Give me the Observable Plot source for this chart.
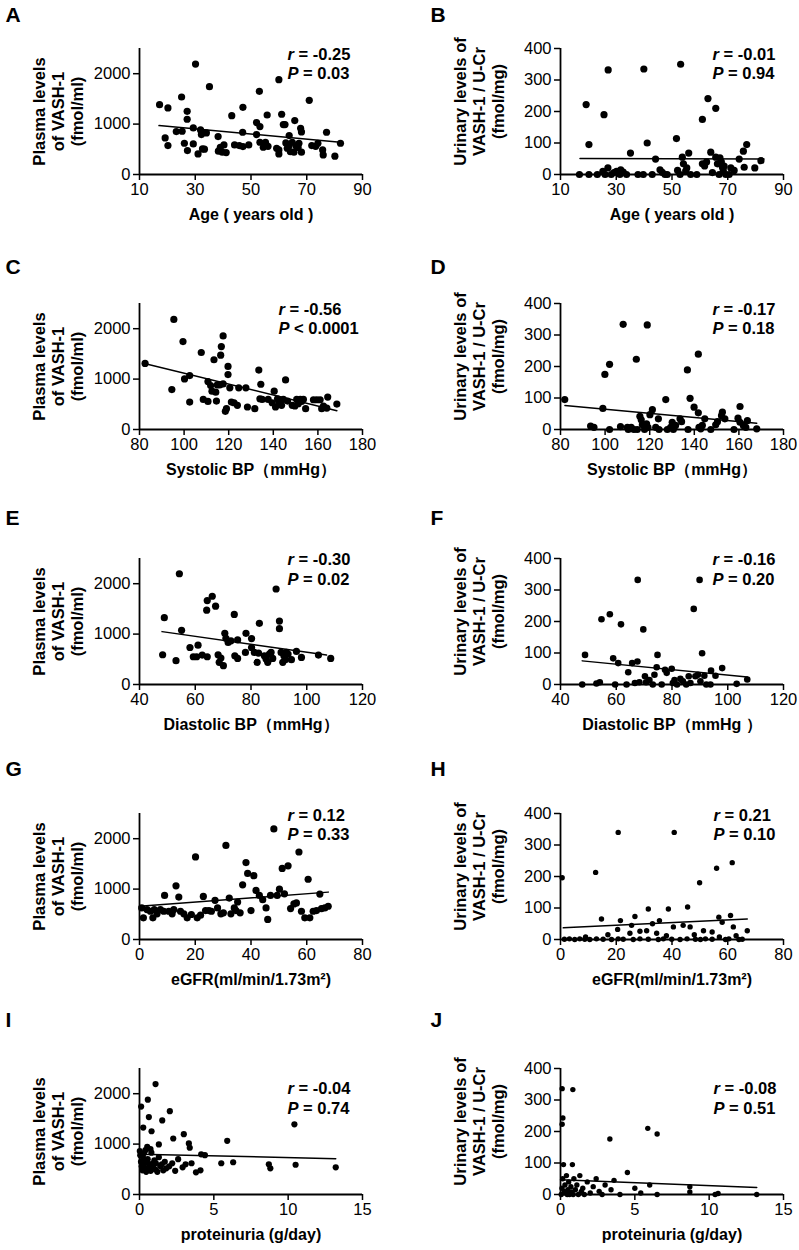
<!DOCTYPE html>
<html><head><meta charset="utf-8">
<script src="https://cdn.jsdelivr.net/npm/d3@7"></script>
<script src="https://cdn.jsdelivr.net/npm/@observablehq/plot@0.6"></script>
<style>
body{margin:0;background:#fff;overflow:hidden}
#fig{position:relative;width:799px;height:1250px;overflow:hidden;background:#fff}
#fig svg{position:absolute}
</style></head><body><div id="fig"></div>
<script>
// ---------- axis tick values & labels ----------
const plasmaTicks = [0, 1000, 2000];
const plasmaDomain = [0, 2500];
const urinaryTicks = [0, 100, 200, 300, 400];
const urinaryDomain = [0, 400];
const ageTicks = [10, 30, 50, 70, 90];
const sbpTicks = [80, 100, 120, 140, 160, 180];
const dbpTicks = [40, 60, 80, 100, 120];
const egfrTicks = [0, 20, 40, 60, 80];
const protTicks = [0, 5, 10, 15];
const plasmaLabel = "Plasma levels\nof VASH-1\n(fmol/ml)";
const urinaryLabel = "Urinary levels of\nVASH-1 / U-Cr\n(fmol/mg)";

// ---------- data: [x, y] pairs ----------
const panelA = [[17.2,1386],[20.2,1320],[19.2,726],[20.2,574],[23.2,851],[25.1,1538],[25.3,858],[26.1,620],[27.1,1254],[27.1,1096],[27.2,475],[29.3,924],[30.1,2191],[29.3,607],[31,409],[31.9,884],[32.2,792],[32.6,508],[33.3,502],[34,825],[35.1,1742],[38.2,752],[38.3,462],[39,541],[39.7,442],[40.3,587],[41.1,436],[43.1,1168],[44.1,587],[45.8,574],[47,838],[47.1,1333],[47.1,554],[49.2,587],[52,792],[52,1030],[53,1650],[53.2,950],[53.2,640],[54.4,541],[55.2,640],[55.8,1181],[56.1,560],[59.2,521],[60,488],[60,409],[60,1881],[61,1195],[61.6,990],[62.2,990],[62.5,627],[63,521],[63.6,568],[63.7,772],[64.1,455],[64.8,640],[65.4,442],[65.7,1069],[66.1,568],[66.9,535],[67.2,620],[67.8,917],[68.1,845],[68.1,442],[70.9,1472],[71.8,574],[73.2,560],[74,620],[75.7,488],[75.9,389],[77.1,838],[80.1,363],[82.1,620]];
const fitA = [[17,970],[82,640]];

const panelB = [[16.8,0],[19.2,222],[20.2,95],[20.2,0],[23.2,0],[25.6,190],[25.2,10],[26,0],[27.1,332],[27,21],[28.2,0],[29.2,6],[30.1,10],[31.3,0],[31.6,15],[32.5,8],[33.7,0],[35.1,68],[37.8,0],[39.9,335],[39.7,0],[41.1,100],[42.9,0],[44.1,49],[45.7,15],[46.5,7],[47.5,0],[48.3,0],[51.6,114],[52,13],[53.1,350],[52.9,0],[53.7,55],[54.1,34],[54.9,11],[55.3,21],[56,68],[56.7,0],[58.9,0],[60.9,175],[60.9,34],[61.7,27],[62.4,40],[62.9,241],[63.9,71],[64.5,6],[65.7,210],[65.7,55],[66.3,34],[66.9,0],[67.2,53],[67.7,40],[68.1,23],[68.7,27],[68.4,13],[69.3,0],[70.5,0],[71.1,21],[72.3,13],[74.1,49],[75.6,74],[75.9,23],[76.8,95],[79.7,21],[81.9,44]];
const fitB = [[17,51],[83,49]];

const panelC = [[82.5,1311],[95.4,2184],[94.5,793],[99.5,1744],[100.2,1003],[102.5,1069],[102.5,544],[107.7,1528],[108.6,597],[110.7,557],[110.7,951],[111.9,872],[112.5,761],[113.4,1384],[114.2,741],[114.5,564],[114.9,885],[116,885],[116.4,1475],[116.7,1646],[117.5,1856],[117.5,905],[118.5,361],[119,413],[119.7,1252],[119.7,1089],[120.5,826],[121.2,544],[122.4,531],[123.9,479],[124.5,826],[127.7,826],[128.4,446],[131.7,413],[133.5,1180],[134,610],[134.4,898],[135,597],[137.7,597],[139.5,531],[140.4,761],[141,446],[141.9,610],[142.5,525],[143.1,577],[143.7,479],[144.5,597],[145.5,984],[146.4,564],[148.5,479],[149.7,466],[150.5,597],[151.2,511],[152.1,597],[152.7,557],[153.5,597],[154.5,413],[158,590],[159.5,590],[161,590],[161.7,413],[162.5,466],[164,426],[164.4,643],[168.5,505]];
const fitC = [[82.2,1311],[168.5,374]];

const panelD = [[81.9,95],[93.5,11],[95,7],[99,67],[99.9,175],[102,207],[102,0],[106.9,9],[108.1,334],[110,7],[110.4,0],[111.7,7],[112.9,0],[114,223],[114.4,0],[115.6,42],[116.2,31],[116.7,15],[117.7,0],[118.6,18],[118.9,332],[119.2,7],[120.1,47],[121.2,63],[122.7,7],[123.9,34],[124.2,0],[127.2,95],[127.9,0],[129.4,7],[130.1,23],[130.6,0],[131.6,13],[133.6,34],[134.3,25],[136.9,189],[137.2,0],[138.1,99],[139.9,71],[141.8,239],[141.8,53],[142.1,7],[142.9,2],[143.6,13],[144.7,34],[147.4,0],[149.6,15],[150.4,25],[152.2,44],[152.6,55],[153.7,34],[157.8,0],[159.6,36],[160.5,73],[160.5,23],[162,13],[163.8,28],[163.1,7],[168,2]];
const fitD = [[82,76],[168,20]];

const panelE = [[48.3,590],[48.9,1325],[53.1,472],[54.3,2197],[55.1,1075],[58.1,734],[59.3,551],[61,780],[60.5,551],[62.5,584],[64.3,551],[64.1,1475],[64.3,1666],[66.1,1751],[67.3,1554],[68.2,590],[68.6,439],[69.2,525],[70.1,374],[70.6,1016],[71,918],[71.8,833],[72.8,866],[74,1390],[74.2,570],[75.2,885],[75.2,518],[78.2,1016],[78,636],[80.2,911],[80.2,734],[81.2,636],[82.2,439],[83,1213],[82.7,623],[84.8,570],[85.4,505],[86,439],[86.6,603],[87.2,636],[87.8,518],[89,1895],[90.2,1259],[90.2,1108],[90.8,636],[91.4,439],[91.8,570],[92.3,492],[92.7,636],[93.3,603],[94.5,492],[96.3,656],[98.1,538],[104.2,584],[108.6,518]];
const fitE = [[48.1,1049],[107.1,584]];

const panelF = [[47.8,0],[48.8,94],[52.9,3],[54.1,7],[54.7,207],[57.7,223],[58.9,83],[59.6,0],[61.7,191],[60.7,68],[63.7,0],[64.3,39],[65.7,68],[66.7,5],[67.6,73],[67.7,332],[68.3,7],[69.7,175],[70.3,26],[70.7,7],[71.9,14],[73.1,0],[73.7,31],[74.5,55],[74.8,94],[76.3,0],[77.5,47],[78.1,37],[79.9,50],[80.3,5],[80.9,14],[81.8,0],[83,18],[83.9,10],[85.1,0],[86,26],[86.6,5],[87.8,240],[88.4,26],[89.3,31],[89.9,332],[90.2,10],[90.8,99],[91.6,28],[92.3,0],[93.8,0],[94,44],[95.6,28],[98,52],[103.2,2],[107,16]];
const fitF = [[47.8,75],[107,24]];

const panelG = [[0.8,627],[1.4,431],[2.7,594],[3.9,561],[4.8,431],[5.3,594],[6.3,509],[7.5,594],[8.7,561],[9,875],[10.5,561],[11.7,509],[12.3,594],[13.1,1064],[14.1,842],[14.7,561],[15.9,509],[17.1,431],[18.6,496],[20.1,1638],[20.7,431],[21.9,483],[22.9,855],[23.7,574],[24.9,574],[25.8,561],[27.1,777],[28,627],[29.2,509],[31,1867],[30.1,529],[32.2,822],[32.8,509],[34,627],[34.6,574],[35.2,744],[36.1,529],[37,1084],[38.2,1527],[38.8,1312],[40,574],[41,1266],[41.8,973],[43,875],[44.2,790],[45.4,627],[46,398],[47,875],[48.2,2193],[49.4,875],[50.2,999],[51.2,1410],[52,907],[53.3,1462],[54.2,614],[55.4,705],[56.3,725],[57.2,1736],[58.1,561],[59.3,431],[60.5,1195],[61.1,431],[62.3,561],[63.5,574],[64.7,901],[65.3,614],[66.5,627],[67.7,660]];
const fitG = [[0,659],[67.7,940]];

const panelH = [[0.6,196],[12.6,213],[14.7,65],[20.7,340],[21.5,60],[26.7,73],[31.5,97],[35.5,60],[38.7,97],[40.8,340],[45.6,103],[49.9,180],[56,226],[56.8,71],[61,76],[61.6,244],[1.4,1],[3.2,2],[5.1,0],[6.9,2],[8.7,1],[10.5,0],[12.9,2],[15.3,1],[18.3,0],[20.7,2],[22.5,1],[26.1,0],[28.5,2],[31.5,1],[35.1,0],[36.9,2],[39.9,1],[42.9,0],[45.4,2],[48.4,1],[50.2,0],[52,2],[54.4,1],[59.2,0],[60.4,2],[64,0],[65.2,1],[20.5,32],[24.9,20],[28.5,26],[30.9,28],[34.5,20],[40.5,40],[46.5,40],[51.3,28],[54.4,24],[67,28],[33,50],[44,45],[58,55],[62,40],[17,15],[9,8],[25.5,45],[38,12],[48,15],[63,12],[57,8]];
const fitH = [[1,37],[67,65]];

const panelI = [[1.08,2190],[0.56,1882],[0.11,1745],[0.63,1536],[2.04,1653],[1.53,1470],[0.25,1327],[0.81,1255],[2.98,1196],[2.27,1111],[5.9,1065],[10.42,1392],[1.3,994],[3.32,1013],[3.38,928],[4.15,798],[0.02,863],[0.52,946],[0.74,902],[0.29,818],[0.05,780],[0.1,650],[0.15,560],[0.2,480],[0.25,720],[0.3,600],[0.35,530],[0.4,880],[0.45,450],[0.5,640],[0.55,700],[0.6,520],[0.7,590],[0.75,470],[0.8,830],[0.85,610],[0.9,560],[1.0,680],[1.05,500],[1.1,620],[1.2,450],[1.3,740],[1.4,560],[1.5,600],[1.6,480],[1.7,650],[1.8,520],[2.0,560],[2.2,620],[2.4,470],[2.6,700],[2.9,540],[3.1,600],[3.5,620],[3.8,440],[4.1,480],[4.4,780],[5.5,620],[6.3,640],[8.7,600],[8.8,520],[10.5,590],[13.2,540]];
const fitI = [[0,800],[13.2,710]];

const panelJ = [[0.11,336],[0.83,333],[0.16,243],[0.11,223],[3.32,176],[5.87,210],[6.5,192],[0.05,0],[0.1,20],[0.15,50],[0.2,95],[0.25,10],[0.3,30],[0.35,5],[0.4,60],[0.45,0],[0.5,15],[0.55,40],[0.6,0],[0.7,25],[0.75,8],[0.8,95],[0.85,0],[0.9,50],[1.0,15],[1.1,30],[1.2,0],[1.3,60],[1.4,10],[1.5,20],[1.6,0],[1.8,40],[2.0,5],[2.2,25],[2.4,50],[2.6,10],[2.8,0],[3.0,30],[3.4,15],[3.6,45],[4.0,0],[4.5,70],[5.0,20],[5.4,5],[6.0,30],[6.5,0],[8.7,25],[8.7,8],[10.4,0],[10.6,3],[13.2,0]];
const fitJ = [[0,47],[13.2,22]];

// ---------- panel configuration ----------
const panels = [
  {id:"A", data:panelA, fit:fitA, col:0, row:0, xDomain:[10,90], xTicks:ageTicks, kind:"plasma", xLabel:"Age ( years old )", letterY:15, ann:[148,6,25], r:"= -0.25", p:"= 0.03", dotR:3.6},
  {id:"B", data:panelB, fit:fitB, col:1, row:0, xDomain:[10,90], xTicks:ageTicks, kind:"urinary", xLabel:"Age ( years old )", letterY:15, ann:[152,6,25], r:"= -0.01", p:"= 0.94", dotR:3.6},
  {id:"C", data:panelC, fit:fitC, col:0, row:1, xDomain:[80,180], xTicks:sbpTicks, kind:"plasma", xLabel:"Systolic BP（mmHg）", letterY:12, ann:[139,6,25], r:"= -0.56", p:"< 0.0001", dotR:3.6},
  {id:"D", data:panelD, fit:fitD, col:1, row:1, xDomain:[80,180], xTicks:sbpTicks, kind:"urinary", xLabel:"Systolic BP（mmHg）", letterY:12, ann:[152,6,25], r:"= -0.17", p:"= 0.18", dotR:3.6},
  {id:"E", data:panelE, fit:fitE, col:0, row:2, xDomain:[40,120], xTicks:dbpTicks, kind:"plasma", xLabel:"Diastolic BP（mmHg）", letterY:8, ann:[148,1,21], r:"= -0.30", p:"= 0.02", dotR:3.6},
  {id:"F", data:panelF, fit:fitF, col:1, row:2, xDomain:[40,120], xTicks:dbpTicks, kind:"urinary", xLabel:"Diastolic BP（mmHg ）", letterY:8, ann:[152,1,21], r:"= -0.16", p:"= 0.20", dotR:3.3},
  {id:"G", data:panelG, fit:fitG, col:0, row:3, xDomain:[0,80], xTicks:egfrTicks, kind:"plasma", xLabel:"eGFR(ml/min/1.73m²)", letterY:4, ann:[148,2,21], r:"= 0.12", p:"= 0.33", dotR:3.6},
  {id:"H", data:panelH, fit:fitH, col:1, row:3, xDomain:[0,80], xTicks:egfrTicks, kind:"urinary", xLabel:"eGFR(ml/min/1.73m²)", letterY:4, ann:[153,2,21], r:"= 0.21", p:"= 0.10", dotR:2.7},
  {id:"I", data:panelI, fit:fitI, col:0, row:4, xDomain:[0,15], xTicks:protTicks, kind:"plasma", xLabel:"proteinuria (g/day)", letterY:0, ann:[148,20,40], r:"= -0.04", p:"= 0.74", dotR:3.1},
  {id:"J", data:panelJ, fit:fitJ, col:1, row:4, xDomain:[0,15], xTicks:protTicks, kind:"urinary", xLabel:"proteinuria (g/day)", letterY:0, ann:[153,20,40], r:"= -0.08", p:"= 0.51", dotR:2.7}
];

const FONT = "'Liberation Sans', Arial, Helvetica, sans-serif";
const fig = document.getElementById("fig");

function makePanel(c) {
  const left = c.col === 0;
  const W = left ? 400 : 399;
  const ML = left ? 139 : 160;
  const MR = W - ML - 223;
  const MT = 63, MB = 60, H = MT + 126 + MB;
  const plasma = c.kind === "plasma";
  const yDomain = plasma ? plasmaDomain : urinaryDomain;
  const yTicks = plasma ? plasmaTicks : urinaryTicks;
  const yLabel = plasma ? plasmaLabel : urinaryLabel;
  const [ax, ay1, ay2] = c.ann;
  const tb = {fontSize: 16.5, fontWeight: "bold", fill: "#000", textAnchor: "start", lineAnchor: "middle", frameAnchor: "top-left", text: d => d};
  const svg = Plot.plot({
    width: W, height: H,
    marginLeft: ML, marginRight: MR, marginTop: MT, marginBottom: MB,
    style: {fontFamily: FONT, color: "#000", background: "transparent", overflow: "visible"},
    x: {domain: c.xDomain},
    y: {domain: yDomain},
    marks: [
      Plot.axisX({ticks: c.xTicks, tickSize: 6, tickPadding: 3, fontSize: 16.5, strokeWidth: 1.5, tickFormat: d3.format("d"), label: null}),
      Plot.axisY({ticks: yTicks, tickSize: 6, tickPadding: 3, fontSize: 16.5, strokeWidth: 1.5, tickFormat: d3.format("d"), label: null}),
      Plot.ruleY([yDomain[0]], {stroke: "#000", strokeWidth: 1.8}),
      Plot.ruleX([c.xDomain[0]], {stroke: "#000", strokeWidth: 1.8}),
      Plot.line(c.fit, {x: d => d[0], y: d => d[1], stroke: "#000", strokeWidth: 1.5}),
      Plot.dot(c.data, {x: d => d[0], y: d => d[1], r: c.dotR, fill: "#000"}),
      // y-axis title
      Plot.text([yLabel], {frameAnchor: "left", dx: -82, dy: left ? 0 : -10, rotate: -90, text: d => d,
        textAnchor: "middle", lineAnchor: "middle",
        fontSize: 16.5, fontWeight: "bold", lineHeight: 1.15, fill: "#000"}),
      // x-axis title
      Plot.text([c.xLabel], {frameAnchor: "bottom", dy: 40, text: d => d, fontSize: 16, fontWeight: "bold",
        textAnchor: "middle", lineAnchor: "middle", fill: "#000"}),
      // panel letter
      Plot.text([c.id], {...tb, fontSize: 21, dx: left ? -134 : -130, dy: c.letterY - 48}),
      // statistics
      Plot.text(["r"], {...tb, fontStyle: "italic", dx: ax, dy: ay1}),
      Plot.text([c.r], {...tb, dx: ax + 11, dy: ay1}),
      Plot.text(["P"], {...tb, fontStyle: "italic", dx: ax, dy: ay2}),
      Plot.text([c.p], {...tb, dx: ax + 15.5, dy: ay2})
    ]
  });
  svg.style.left = (left ? 0 : 400) + "px";
  svg.style.top = (c.row * 255 - 15) + "px";
  fig.appendChild(svg);
}
panels.forEach(makePanel);
</script>
</body></html>
